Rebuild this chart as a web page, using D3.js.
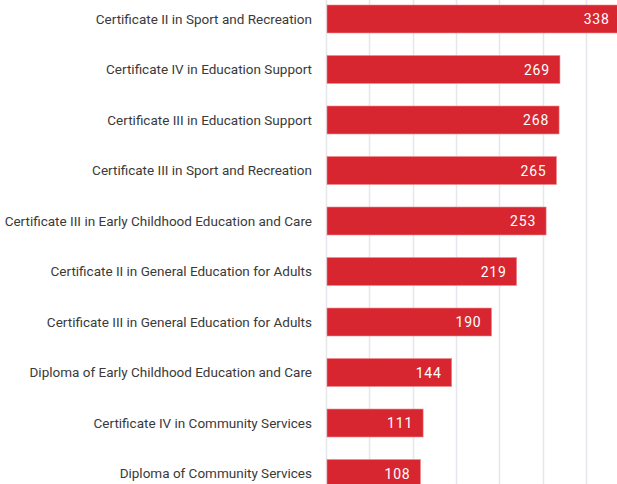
<!DOCTYPE html>
<html>
<head>
<meta charset="utf-8">
<script src="https://cdn.jsdelivr.net/npm/d3@7"></script>
<style>
  body { margin: 0; background: #fff; }
  svg { display: block; }
  text { font-family: Roboto, "DejaVu Sans", sans-serif; }
</style>
</head>
<body>
<div id="chart"></div>
<script>
// Qualifications and enrolment counts
const courses = [
  "Certificate II in Sport and Recreation",
  "Certificate IV in Education Support",
  "Certificate III in Education Support",
  "Certificate III in Sport and Recreation",
  "Certificate III in Early Childhood Education and Care",
  "Certificate II in General Education for Adults",
  "Certificate III in General Education for Adults",
  "Diploma of Early Childhood Education and Care",
  "Certificate IV in Community Services",
  "Diploma of Community Services"
];
const counts = [338, 269, 268, 265, 253, 219, 190, 144, 111, 108];
const gridTicks = [0, 50, 100, 150, 200, 250, 300, 350];

const width = 617, height = 484;
const left = 327;

const svg = d3.select("#chart")
  .append("svg")
  .attr("width", width)
  .attr("height", height);

// x scale: 50 units is about 43.3px
const x = d3.scaleLinear()
  .domain([0, 350])
  .range([left, left + 350 * 0.866]);

// step ~50.5px, bars ~28px tall, first bar top at y=5
const y = d3.scaleBand()
  .domain(courses)
  .range([5, 487.5])
  .paddingInner(0.446)
  .paddingOuter(0);

// vertical gridlines
svg.append("g")
  .selectAll("line")
  .data(gridTicks)
  .enter()
  .append("line")
  .attr("x1", d => Math.round(x(d)) - 0.5)
  .attr("x2", d => Math.round(x(d)) - 0.5)
  .attr("y1", 0)
  .attr("y2", height)
  .attr("stroke", "#e4e7ec")
  .attr("stroke-width", 1.5);

// bars
const rows = courses.map((c, i) => ({ course: c, value: counts[i] }));

svg.selectAll(".bar")
  .data(rows)
  .enter()
  .append("rect")
  .attr("class", "bar")
  .attr("x", x(0))
  .attr("y", d => y(d.course))
  .attr("width", d => x(d.value) - x(0))
  .attr("height", y.bandwidth())
  .attr("fill", "#d7262f")
  .attr("stroke", "#ee8a8f")
  .attr("stroke-width", 0.6);

// value labels inside the bars
svg.selectAll(".val")
  .data(rows)
  .enter()
  .append("text")
  .attr("class", "val")
  .attr("x", d => x(d.value) - 10)
  .attr("y", d => y(d.course) + y.bandwidth() / 2)
  .attr("dy", "0.36em")
  .attr("text-anchor", "end")
  .attr("fill", "#fff")
  .style("font-size", "14px")
  .style("letter-spacing", "0.8px")
  .text(d => d.value);

// category labels
svg.selectAll(".lab")
  .data(rows)
  .enter()
  .append("text")
  .attr("class", "lab")
  .attr("x", left - 15)
  .attr("y", d => y(d.course) + y.bandwidth() / 2)
  .attr("dy", "0.36em")
  .attr("text-anchor", "end")
  .attr("fill", "#3a3a3a")
  .style("font-size", "13.5px")
  .text(d => d.course);
</script>
</body>
</html>
